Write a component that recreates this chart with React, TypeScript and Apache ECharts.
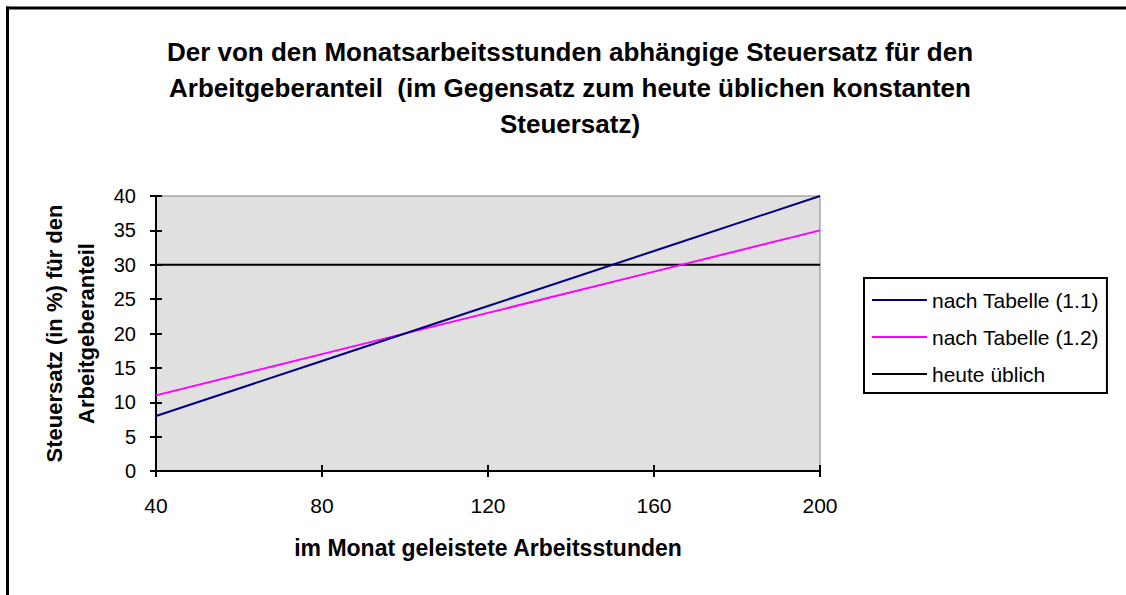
import React, { useEffect, useRef } from "react";
import * as echarts from "echarts";

const hours = [40, 80, 120, 160, 200];
const table11 = [8, 16, 24, 32, 40];
const table12 = [11, 17, 23, 29, 35];
const heute = [30, 30, 30, 30, 30];

const seriesNames = ["nach Tabelle (1.1)", "nach Tabelle (1.2)", "heute üblich"];
const seriesColors = ["#000080", "#ff00ff", "#000000"];

const titleText =
  "Der von den Monatsarbeitsstunden abhängige Steuersatz für den\nArbeitgeberanteil  (im Gegensatz zum heute üblichen konstanten\nSteuersatz)";
const xName = "im Monat geleistete Arbeitsstunden";
const yName = "Steuersatz (in %) für den\nArbeitgeberanteil";

const FONT = "'Liberation Sans', Arial, sans-serif";

export default function App() {
  const ref = useRef<HTMLDivElement>(null);
  useEffect(() => {
    if (!ref.current) return;
    const chart = echarts.init(ref.current, undefined, { renderer: "svg" });
    const pair = (ys: number[]) => hours.map((h, i) => [h, ys[i]]);
    const values = [table11, table12, heute];
    chart.setOption({
      animation: false,
      backgroundColor: "#ffffff",
      textStyle: { fontFamily: FONT },
      title: {
        text: titleText,
        left: 570,
        top: 34,
        padding: 0,
        textAlign: "center",
        textStyle: {
          fontFamily: FONT,
          fontSize: 26,
          fontWeight: "bold",
          color: "#000",
          lineHeight: 36,
          align: "center",
        },
      },
      graphic: [
        { type: "line", shape: { x1: 6, y1: 8, x2: 1126, y2: 8 }, style: { stroke: "#000", lineWidth: 3 } },
        { type: "line", shape: { x1: 7.5, y1: 6.5, x2: 7.5, y2: 595 }, style: { stroke: "#000", lineWidth: 3 } },
      ],
      legend: {
        orient: "vertical",
        left: 864,
        top: 278,
        padding: [11, 8, 8, 8],
        backgroundColor: "#fff",
        borderColor: "#000",
        borderWidth: 2,
        borderRadius: 0,
        itemWidth: 55,
        itemHeight: 2,
        itemGap: 15,
        icon: "rect",
        selectedMode: false,
        textStyle: { fontFamily: FONT, fontSize: 21, color: "#000", lineHeight: 22 },
        data: seriesNames,
      },
      grid: {
        left: 156,
        top: 196,
        width: 664,
        height: 275,
        show: true,
        backgroundColor: "#e0e0e0",
        borderColor: "#808080",
        borderWidth: 1,
      },
      xAxis: [
        {
          type: "value",
          min: 40,
          max: 200,
          interval: 40,
          name: xName,
          nameLocation: "middle",
          nameGap: 65,
          nameTextStyle: { fontFamily: FONT, fontSize: 23, fontWeight: "bold", color: "#000" },
          axisLine: { show: true, lineStyle: { color: "#000", width: 2 } },
          axisTick: { show: true, length: 6, lineStyle: { color: "#000", width: 2 } },
          axisLabel: { margin: 24, fontFamily: FONT, fontSize: 21, color: "#000" },
          splitLine: { show: false },
        },
        {
          type: "value",
          min: 40,
          max: 200,
          interval: 40,
          position: "bottom",
          axisLine: { show: false },
          axisTick: { show: true, inside: true, length: 6, lineStyle: { color: "#000", width: 2 } },
          axisLabel: { show: false },
          splitLine: { show: false },
        },
      ],
      yAxis: [
        {
          type: "value",
          min: 0,
          max: 40,
          interval: 5,
          name: yName,
          nameLocation: "middle",
          nameGap: 50,
          nameTextStyle: { fontFamily: FONT, fontSize: 22, fontWeight: "bold", color: "#000", lineHeight: 32, align: "center" },
          axisLine: { show: true, lineStyle: { color: "#000", width: 2 } },
          axisTick: { show: true, length: 6, lineStyle: { color: "#000", width: 2 } },
          axisLabel: { margin: 20, fontFamily: FONT, fontSize: 20, color: "#000" },
          splitLine: { show: false },
        },
        {
          type: "value",
          min: 0,
          max: 40,
          interval: 5,
          position: "left",
          axisLine: { show: false },
          axisTick: { show: true, inside: true, length: 6, lineStyle: { color: "#000", width: 2 } },
          axisLabel: { show: false },
          splitLine: { show: false },
        },
      ],
      series: seriesNames.map((name, i) => ({
        name,
        type: "line",
        xAxisIndex: 0,
        yAxisIndex: 0,
        data: pair(values[i]),
        showSymbol: false,
        symbol: "none",
        color: seriesColors[i],
        lineStyle: { color: seriesColors[i], width: 2 },
        z: 3 - i + 2,
      })),
    });
    return () => chart.dispose();
  }, []);
  return (
    <div
      ref={ref}
      style={{ position: "absolute", left: 0, top: 0, width: 1126, height: 595 }}
    />
  );
}
